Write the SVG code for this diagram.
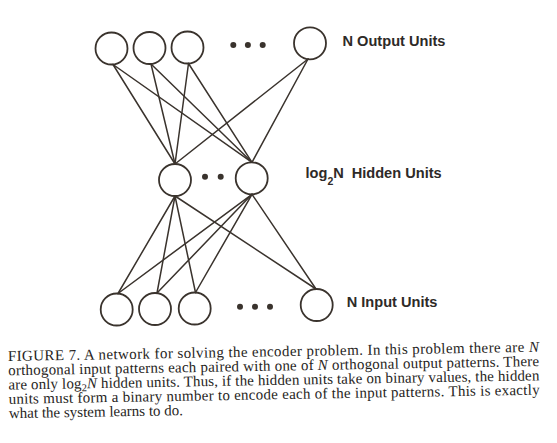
<svg xmlns="http://www.w3.org/2000/svg" width="557" height="443" viewBox="0 0 557 443">
<style>
.unit{fill:none;stroke:#3a332d;stroke-width:1.8}
.dot{fill:#3a332d}
.conn line{stroke:#3a332d;stroke-width:1.5;stroke-linecap:round}
.lbl{font-family:"Liberation Sans",Arial,sans-serif;font-weight:bold;font-size:14.6px;fill:#2e2a27}
.cap{font-family:"Liberation Serif","Times New Roman",serif;font-size:15px;fill:#262422}
</style>
<rect width="557" height="443" fill="#ffffff"/>
<g id="connectors" class="conn">
<line x1="113" y1="64.5" x2="175" y2="164"/>
<line x1="113" y1="64.5" x2="252" y2="162.3"/>
<line x1="151" y1="64" x2="175" y2="164"/>
<line x1="151" y1="64" x2="252" y2="162.3"/>
<line x1="188.5" y1="63.5" x2="175" y2="164"/>
<line x1="188.5" y1="63.5" x2="252" y2="162.3"/>
<line x1="308" y1="59" x2="175" y2="164"/>
<line x1="308" y1="59" x2="252" y2="162.3"/>
<line x1="175" y1="196" x2="118" y2="293.5"/>
<line x1="175" y1="196" x2="157" y2="293"/>
<line x1="175" y1="196" x2="195.5" y2="292.5"/>
<line x1="175" y1="196" x2="316" y2="289"/>
<line x1="252" y1="194.3" x2="118" y2="293.5"/>
<line x1="252" y1="194.3" x2="157" y2="293"/>
<line x1="252" y1="194.3" x2="195.5" y2="292.5"/>
<line x1="252" y1="194.3" x2="316" y2="289"/>
</g>
<g id="output-units">
<circle class="unit" cx="111.5" cy="48.5" r="16"/>
<circle class="unit" cx="149.5" cy="48" r="16"/>
<circle class="unit" cx="187.5" cy="47.5" r="16"/>
<circle class="dot" cx="233.3" cy="45" r="3"/>
<circle class="dot" cx="247.9" cy="45" r="3"/>
<circle class="dot" cx="262.7" cy="45" r="3"/>
<circle class="unit" cx="310" cy="43.3" r="16"/>
<text class="lbl" x="342.5" y="45.7">N Output Units</text>
</g>
<g id="hidden-units">
<circle class="unit" cx="175" cy="180" r="16"/>
<circle class="dot" cx="205" cy="176.7" r="3"/>
<circle class="dot" cx="220.7" cy="176.7" r="3"/>
<circle class="unit" cx="251.7" cy="178.3" r="16"/>
<text class="lbl" x="305.5" y="178.3">log<tspan font-size="10.5px" dy="7">2</tspan><tspan dy="-7">N</tspan></text>
<text class="lbl" x="351.7" y="178.3">Hidden Units</text>
</g>
<g id="input-units">
<circle class="unit" cx="116.7" cy="309.5" r="16"/>
<circle class="unit" cx="155" cy="309" r="16"/>
<circle class="unit" cx="194.7" cy="308.5" r="16"/>
<circle class="dot" cx="240" cy="306.7" r="3"/>
<circle class="dot" cx="255" cy="306.7" r="3"/>
<circle class="dot" cx="270" cy="306.7" r="3"/>
<circle class="unit" cx="316.7" cy="305" r="16"/>
<text class="lbl" x="346.7" y="306.7">N Input Units</text>
</g>
<g id="caption" class="cap" transform="rotate(-1 8 361)">
<text x="8" y="361" textLength="531" lengthAdjust="spacing">FIGURE 7.  A network for solving the encoder problem.  In this problem there are <tspan font-style="italic">N</tspan></text>
<text x="8" y="375.3" textLength="531" lengthAdjust="spacing">orthogonal input patterns each paired with one of <tspan font-style="italic">N</tspan> orthogonal output patterns.  There</text>
<text x="8" y="389.6" textLength="531" lengthAdjust="spacing">are only log<tspan font-size="10.5px" dy="3">2</tspan><tspan font-style="italic" dy="-3">N</tspan> hidden units.  Thus, if the hidden units take on binary values, the hidden</text>
<text x="8" y="403.9" textLength="531" lengthAdjust="spacing">units must form a binary number to encode each of the input patterns.  This is exactly</text>
<text x="8" y="418.2">what the system learns to do.</text>
</g>
</svg>
